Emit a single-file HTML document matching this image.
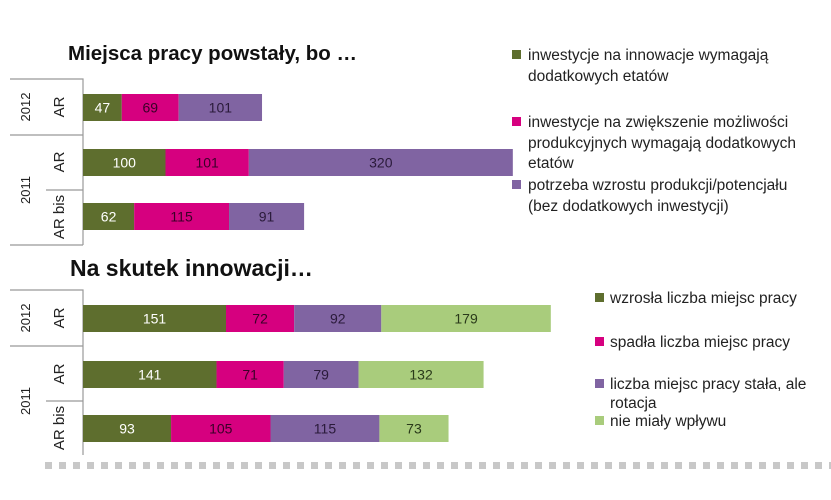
<!DOCTYPE html>
<html><head><meta charset="utf-8"><style>
body{margin:0;background:#fff;width:831px;height:500px;overflow:hidden}
svg{display:block;font-family:"Liberation Sans","DejaVu Sans",sans-serif}
</style></head><body>
<svg id="c" width="831" height="500" xmlns="http://www.w3.org/2000/svg">
<text x="68" y="60" font-size="20.5" font-weight="bold" fill="#111">Miejsca pracy powstały, bo …</text>
<text x="70" y="276" font-size="23" font-weight="bold" fill="#111">Na skutek innowacji…</text>
<g stroke="#999" stroke-width="1.2" fill="none">
<path d="M10 79H83V245M10 135H83M46 190H83M10 245H83"/>
<path d="M10 290H83V455M10 346H83M46 401H83"/>
</g>
<g font-size="13" fill="#222">
<text transform="translate(30,107) rotate(-90)" text-anchor="middle">2012</text>
<text transform="translate(64,107) rotate(-90)" text-anchor="middle" font-size="15">AR</text>
<text transform="translate(30,190) rotate(-90)" text-anchor="middle">2011</text>
<text transform="translate(64,162) rotate(-90)" text-anchor="middle" font-size="15">AR</text>
<text transform="translate(64,217) rotate(-90)" text-anchor="middle" font-size="15">AR bis</text>
<text transform="translate(30,318) rotate(-90)" text-anchor="middle">2012</text>
<text transform="translate(64,318) rotate(-90)" text-anchor="middle" font-size="15">AR</text>
<text transform="translate(30,401) rotate(-90)" text-anchor="middle">2011</text>
<text transform="translate(64,374) rotate(-90)" text-anchor="middle" font-size="15">AR</text>
<text transform="translate(64,428) rotate(-90)" text-anchor="middle" font-size="15">AR bis</text>
</g>
<g id="bars"></g>
<g font-size="15.5" fill="#222">
<rect x="512" y="50" width="9" height="9" fill="#5e6e2e"/>
<text x="528" y="60">inwestycje na innowacje wymagają</text><text x="528" y="81">dodatkowych etatów</text>
<rect x="512" y="117" width="9" height="9" fill="#d6007f"/>
<text x="528" y="127">inwestycje na zwiększenie możliwości</text><text x="528" y="148">produkcyjnych wymagają dodatkowych</text><text x="528" y="168">etatów</text>
<rect x="512" y="180" width="9" height="9" fill="#8064a2"/>
<text x="528" y="190">potrzeba wzrostu produkcji/potencjału</text><text x="528" y="211">(bez dodatkowych inwestycji)</text>
</g>
<g font-size="15.5" fill="#222">
<rect x="595" y="293" width="9" height="9" fill="#5e6e2e"/><text x="610" y="303">wzrosła liczba miejsc pracy</text>
<rect x="595" y="337" width="9" height="9" fill="#d6007f"/><text x="610" y="347">spadła liczba miejsc pracy</text>
<rect x="595" y="379" width="9" height="9" fill="#8064a2"/><text x="610" y="389">liczba miejsc pracy stała, ale</text><text x="610" y="408">rotacja</text>
<rect x="595" y="416" width="9" height="9" fill="#a9cc7c"/><text x="610" y="426">nie miały wpływu</text>
</g>
<g id="dash" fill="#c8c8c8"></g>
</svg>
<script>
const topCategories=["2012 AR","2011 AR","2011 AR bis"];
const topS1=[47,100,62];
const topS2=[69,101,115];
const topS3=[101,320,91];
const botCategories=["2012 AR","2011 AR","2011 AR bis"];
const botS1=[151,141,93];
const botS2=[72,71,105];
const botS3=[92,79,115];
const botS4=[179,132,73];
const colors=["#5e6e2e","#d6007f","#8064a2","#a9cc7c"];
const txt=["#fff","#3a0028","#2a1a3a","#2a3a1a"];
const NS="http://www.w3.org/2000/svg";
const g=document.getElementById('bars');
function draw(series,rowsY,h,scale,prefix){
  const x0=83;
  rowsY.forEach((y,i)=>{
    let x=x0;
    series.forEach((s,k)=>{
      const w=s[i]*scale;
      const r=document.createElementNS(NS,'rect');
      r.setAttribute('x',x);r.setAttribute('y',y);r.setAttribute('width',w);r.setAttribute('height',h);r.setAttribute('fill',colors[k]);
      
      
      g.appendChild(r);
      const t=document.createElementNS(NS,'text');
      t.setAttribute('x',x+w/2);t.setAttribute('y',y+h/2+5);t.setAttribute('text-anchor','middle');t.setAttribute('font-size','14');t.setAttribute('fill',txt[k]);
      t.textContent=s[i];
      
      
      g.appendChild(t);
      x+=w;
    });
  });
}
draw([topS1,topS2,topS3],[94,149,203],27,0.825,'top');
draw([botS1,botS2,botS3,botS4],[305,361,415],27,0.947,'bottom');
const d=document.getElementById('dash');
for(let x=45;x<831;x+=14){const r=document.createElementNS(NS,'rect');r.setAttribute('x',x);r.setAttribute('y',462);r.setAttribute('width',7);r.setAttribute('height',7);d.appendChild(r);}
</script>
</body></html>
